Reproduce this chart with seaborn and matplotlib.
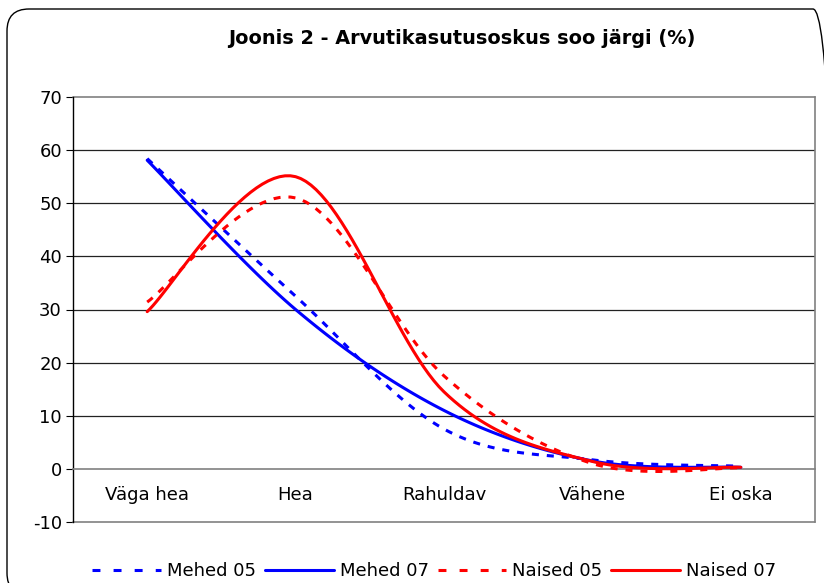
import matplotlib
matplotlib.use("Agg")
import matplotlib.pyplot as plt
import numpy as np
import pandas as pd
import seaborn as sns
from matplotlib.lines import Line2D
from matplotlib.patches import FancyBboxPatch

# andmed (loetud jooniselt)
categories = ["Väga hea", "Hea", "Rahuldav", "Vähene", "Ei oska"]
mehed_05 = [58.4, 32.5, 7.5, 1.7, 0.5]
mehed_07 = [58.1, 30.0, 11.0, 1.5, 0.3]
naised_05 = [31.4, 51.0, 17.5, 1.0, 0.2]
naised_07 = [29.6, 55.0, 14.5, 1.4, 0.3]
y_ticks = [-10, 0, 10, 20, 30, 40, 50, 60, 70]

series = [
    ("Mehed 05", mehed_05, "#0000FF", True),
    ("Mehed 07", mehed_07, "#0000FF", False),
    ("Naised 05", naised_05, "#FF0000", True),
    ("Naised 07", naised_07, "#FF0000", False),
]


def smooth(vals, steps=30):
    # Exceli "silutud joon": Bezier kontrollpunktidega (p[i+1]-p[i-1])/6
    p = np.column_stack([np.arange(len(vals), dtype=float), np.asarray(vals, float)])
    xs, ys = [], []
    for i in range(len(p) - 1):
        prev = p[i - 1] if i > 0 else p[i]
        nxt = p[i + 2] if i + 2 < len(p) else p[i + 1]
        c1 = p[i] + (p[i + 1] - prev) / 6
        c2 = p[i + 1] - (nxt - p[i]) / 6
        t = np.linspace(0, 1, steps)[:, None]
        b = ((1 - t) ** 3 * p[i] + 3 * (1 - t) ** 2 * t * c1
             + 3 * (1 - t) * t ** 2 * c2 + t ** 3 * p[i + 1])
        xs.extend(b[:, 0])
        ys.extend(b[:, 1])
    return xs, ys


sns.set_style("white")
plt.rcParams["font.family"] = ["DejaVu Sans"]
plt.rcParams["text.color"] = "black"
plt.rcParams["xtick.color"] = "black"
plt.rcParams["ytick.color"] = "black"

fig = plt.figure(figsize=(8.24, 5.83), dpi=100)
ax = fig.add_axes([73 / 824, 1 - 522 / 583, 742 / 824, 425 / 583])

# ümar raam ümber joonise
frame = FancyBboxPatch((0.07, -0.12), 8.28, 5.86,
                       boxstyle="round,pad=0,rounding_size=0.22",
                       transform=fig.dpi_scale_trans, facecolor="none",
                       edgecolor="black", linewidth=1.0, zorder=0)
fig.patches.append(frame)

handles = []
for name, vals, color, dashed in series:
    sx, sy = smooth(vals)
    df = pd.DataFrame({"x": sx, "y": sy})
    ls = (0, (2.3, 2.6)) if dashed else "-"
    sns.lineplot(data=df, x="x", y="y", sort=False, ax=ax, color=color,
                 linewidth=2.2, linestyle=ls, estimator=None, zorder=3)
    leg = Line2D([], [], color=color, linewidth=2.2, label=name)
    if dashed:
        leg.set_linestyle((0, (2.6, 4.3)))
        leg.set_dash_capstyle("butt")
    handles.append(leg)
for line in ax.lines:
    line.set_dash_capstyle("butt")

ax.set_xlim(-0.5, len(categories) - 0.5)
ax.set_ylim(-10, 70)
ax.set_yticks(y_ticks)
ax.set_yticklabels([str(v) for v in y_ticks])
for v in y_ticks:
    if v in (-10, 70):
        ax.axhline(v, color="#808080", linewidth=1.2, zorder=1, clip_on=False)
    elif v != 0:
        ax.axhline(v, color="#222222", linewidth=0.9, zorder=1)

# kategooria-telg läbib nulli
ax.spines["bottom"].set_position(("data", 0))
ax.spines["bottom"].set_color("#808080")
ax.spines["bottom"].set_linewidth(1.2)
ax.spines["top"].set_visible(False)
ax.spines["right"].set_color("#808080")
ax.spines["right"].set_linewidth(1.2)
ax.spines["left"].set_color("black")
ax.spines["left"].set_linewidth(1.0)

ax.set_xticks(range(len(categories)))
ax.set_xticklabels(categories)
ax.set_xticks(np.arange(-0.5, len(categories)), minor=True)
ax.tick_params(axis="x", which="major", length=0, pad=12, labelsize=13)
ax.tick_params(axis="x", which="minor", length=5, color="#808080", direction="out")
ax.tick_params(axis="y", length=5, color="black", direction="out", labelsize=13,
               left=True, pad=3)
ax.set_xlabel("")
ax.set_ylabel("")

fig.text(0.561, 1 - 39 / 583, "Joonis 2 - Arvutikasutusoskus soo järgi (%)",
         ha="center", va="center", fontsize=13.9, fontweight="bold")

fig.legend(handles=handles, loc="center", bbox_to_anchor=(0.527, 1 - 571 / 583),
           ncol=4, frameon=False, fontsize=13, handlelength=3.8,
           handletextpad=0.33, columnspacing=0.5, borderaxespad=0)

fig.savefig("out.png", dpi=100)
